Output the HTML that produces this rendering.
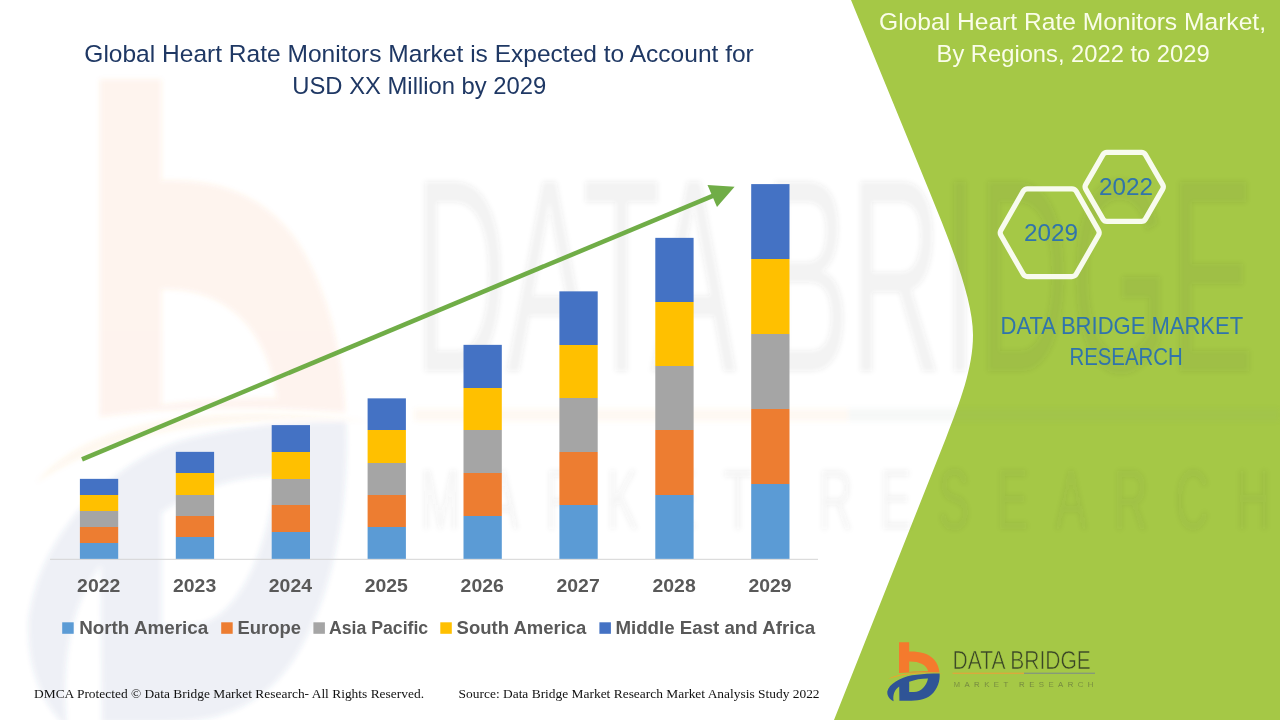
<!DOCTYPE html>
<html lang="en">
<head>
<meta charset="utf-8">
<title>Global Heart Rate Monitors Market</title>
<style>
  html, body { margin: 0; padding: 0; background: #ffffff; }
  body { width: 1280px; height: 720px; overflow: hidden; position: relative;
         font-family: "Liberation Sans", sans-serif; }
  #slide { position: absolute; left: 0; top: 0; width: 1280px; height: 720px; display: block; }
  text { font-family: "Liberation Sans", sans-serif; }
  .serif { font-family: "Liberation Serif", serif; }
  .ttl { font-size: 23.7px; fill: #1f3864; }
  .wttl { font-size: 23.7px; fill: #fafde9; }
  .blue { font-size: 23.7px; fill: #3074ab; }
  .yr { font-size: 17.7px; font-weight: bold; fill: #595959; }
  .lg { font-size: 17.5px; font-weight: bold; fill: #595959; }
</style>
</head>
<body>
<svg id="slide" width="1280" height="720" viewBox="0 0 1280 720">
  <defs>
    <g id="logo-icon">
      <!-- orange b -->
      <path fill="#f47a2d" d="M899,642.3 L909.2,642.3 L909.2,651.5 C919,651.3 928.6,653 934,659.5 C937.5,663.5 939,668 939.5,672.6 C925,672 912,672 899,673 Z M909.2,661.4 L909.2,671.9 C915,671.5 922,671.3 928.2,671.3 C926.5,664.5 919,661.2 909.2,661.4 Z"/>
      <!-- orange swoosh -->
      <path fill="#f4a02d" d="M888.5,679 C897,673.5 915,671.6 943.5,673.4 C918,672.6 900,674.5 888.5,679 Z"/>
      <!-- blue D swoosh -->
      <path fill="#2f5496" fill-rule="evenodd" d="M887.3,691.4 C889,684 900,677.5 912,675.2 C922,673.7 932,673.4 939.6,673.4 C940.2,680 938,689 931,695 C925,700 917,700.8 908,700.8 L899.4,700.8 L899.2,686.5 C895,689.5 892.5,694 893.6,701.2 C889.5,699 887,696 887.3,691.4 Z M909.2,681.7 L909.2,691.9 L914,691.9 C921,691.9 926.5,686 928,678.4 C922,678.3 915,679.5 909.2,681.7 Z"/>
    </g>
    <g id="logo-word">
      <text x="952.5" y="669.3" font-size="25.1" textLength="138.4" lengthAdjust="spacingAndGlyphs">DATA BRIDGE</text>
      <rect x="952.5" y="672.7" width="71.5" height="1.1" fill="#e9a23b" stroke="none"/>
      <rect x="1024" y="672.7" width="71" height="1.1" fill="#7f8f86" stroke="none"/>
    </g>
    <g id="logo-sub">
      <text x="953.5" y="686.6" font-size="7.8" textLength="140" lengthAdjust="spacing">MARKET RESEARCH</text>
    </g>
    <filter id="wmblur" x="-5%" y="-5%" width="110%" height="110%" filterUnits="userSpaceOnUse">
      <feGaussianBlur stdDeviation="2.5"/>
    </filter>
  </defs>

  <!-- white background -->
  <rect x="0" y="0" width="1280" height="720" fill="#ffffff"/>

  <!-- green panel -->
  <path id="panel" fill="#a5c846" d="M851,0 L928,188 C950,242 973,298 973,335 C973,368 960,402 946,438 L834,720 L1280,720 L1280,0 Z"/>

  <!-- watermark (stretched logo) -->
  <g filter="url(#wmblur)">
    <use href="#logo-icon" transform="matrix(6.07 0 0 11 -5357.3 -6986)" opacity="0.085"/>
    <use href="#logo-word" fill="#555555" transform="matrix(6.07 0 0 11 -5367.3 -6990.8)" opacity="0.065"/>
    <use href="#logo-sub" fill="#555555" transform="matrix(6.07 0 0 11 -5367.3 -7024)" opacity="0.06"/>
  </g>

  <!-- left title -->
  <text class="ttl" x="84.3" y="61.5" textLength="669.5" lengthAdjust="spacingAndGlyphs">Global Heart Rate Monitors Market is Expected to Account for</text>
  <text class="ttl" x="292.3" y="93.5" textLength="254" lengthAdjust="spacingAndGlyphs">USD XX Million by 2029</text>

  <!-- right title -->
  <text class="wttl" x="879" y="29.5" textLength="387" lengthAdjust="spacingAndGlyphs">Global Heart Rate Monitors Market,</text>
  <text class="wttl" x="936.6" y="61.7" textLength="273" lengthAdjust="spacingAndGlyphs">By Regions, 2022 to 2029</text>

  <!-- hexagons -->
  <g fill="none" stroke="#f8fbee" stroke-width="5.2" stroke-linejoin="round">
    <path d="M1000.92,235.18 Q999.50,232.70 1000.92,230.22 L1023.16,191.32 Q1024.60,188.80 1027.50,188.80 L1071.90,188.80 Q1074.80,188.80 1076.24,191.32 L1098.48,230.22 Q1099.90,232.70 1098.48,235.18 L1076.24,274.08 Q1074.80,276.60 1071.90,276.60 L1027.50,276.60 Q1024.60,276.60 1023.16,274.08 Z"/>
    <path d="M1085.70,189.15 Q1084.40,186.90 1085.70,184.65 L1103.00,154.65 Q1104.30,152.40 1106.90,152.40 L1141.50,152.40 Q1144.10,152.40 1145.40,154.65 L1162.70,184.65 Q1164.00,186.90 1162.70,189.15 L1145.40,219.15 Q1144.10,221.40 1141.50,221.40 L1106.90,221.40 Q1104.30,221.40 1103.00,219.15 Z"/>
  </g>
  <text class="blue" x="1024" y="241" textLength="54" lengthAdjust="spacingAndGlyphs">2029</text>
  <text class="blue" x="1099" y="195.2" textLength="54" lengthAdjust="spacingAndGlyphs">2022</text>

  <text class="blue" x="1000.6" y="333.6" textLength="242.6" lengthAdjust="spacingAndGlyphs">DATA BRIDGE MARKET</text>
  <text class="blue" x="1069.4" y="365" textLength="113.4" lengthAdjust="spacingAndGlyphs">RESEARCH</text>

  <!-- chart axis -->
  <rect x="50" y="558.8" width="768" height="1" fill="#d4d4d4"/>

  <!-- bars -->
  <g id="bars">
    <!-- 2022 -->
    <rect x="79.9" y="478.85" width="38.3" height="16.15" fill="#4472c4"/>
    <rect x="79.9" y="495.00" width="38.3" height="16.00" fill="#ffc000"/>
    <rect x="79.9" y="511.00" width="38.3" height="16.00" fill="#a5a5a5"/>
    <rect x="79.9" y="527.00" width="38.3" height="16.00" fill="#ed7d31"/>
    <rect x="79.9" y="543.00" width="38.3" height="15.85" fill="#5b9bd5"/>
    <!-- 2023 -->
    <rect x="175.8" y="451.85" width="38.3" height="21.15" fill="#4472c4"/>
    <rect x="175.8" y="473.00" width="38.3" height="22.00" fill="#ffc000"/>
    <rect x="175.8" y="495.00" width="38.3" height="21.00" fill="#a5a5a5"/>
    <rect x="175.8" y="516.00" width="38.3" height="21.00" fill="#ed7d31"/>
    <rect x="175.8" y="537.00" width="38.3" height="21.85" fill="#5b9bd5"/>
    <!-- 2024 -->
    <rect x="271.7" y="425.10" width="38.3" height="26.90" fill="#4472c4"/>
    <rect x="271.7" y="452.00" width="38.3" height="27.00" fill="#ffc000"/>
    <rect x="271.7" y="479.00" width="38.3" height="26.00" fill="#a5a5a5"/>
    <rect x="271.7" y="505.00" width="38.3" height="27.00" fill="#ed7d31"/>
    <rect x="271.7" y="532.00" width="38.3" height="26.85" fill="#5b9bd5"/>
    <!-- 2025 -->
    <rect x="367.6" y="398.35" width="38.3" height="31.65" fill="#4472c4"/>
    <rect x="367.6" y="430.00" width="38.3" height="33.00" fill="#ffc000"/>
    <rect x="367.6" y="463.00" width="38.3" height="32.00" fill="#a5a5a5"/>
    <rect x="367.6" y="495.00" width="38.3" height="32.00" fill="#ed7d31"/>
    <rect x="367.6" y="527.00" width="38.3" height="31.85" fill="#5b9bd5"/>
    <!-- 2026 -->
    <rect x="463.5" y="344.85" width="38.3" height="43.15" fill="#4472c4"/>
    <rect x="463.5" y="388.00" width="38.3" height="42.00" fill="#ffc000"/>
    <rect x="463.5" y="430.00" width="38.3" height="43.00" fill="#a5a5a5"/>
    <rect x="463.5" y="473.00" width="38.3" height="43.00" fill="#ed7d31"/>
    <rect x="463.5" y="516.00" width="38.3" height="42.85" fill="#5b9bd5"/>
    <!-- 2027 -->
    <rect x="559.4" y="291.35" width="38.3" height="53.65" fill="#4472c4"/>
    <rect x="559.4" y="345.00" width="38.3" height="53.00" fill="#ffc000"/>
    <rect x="559.4" y="398.00" width="38.3" height="54.00" fill="#a5a5a5"/>
    <rect x="559.4" y="452.00" width="38.3" height="53.00" fill="#ed7d31"/>
    <rect x="559.4" y="505.00" width="38.3" height="53.85" fill="#5b9bd5"/>
    <!-- 2028 -->
    <rect x="655.3" y="237.85" width="38.3" height="64.15" fill="#4472c4"/>
    <rect x="655.3" y="302.00" width="38.3" height="64.00" fill="#ffc000"/>
    <rect x="655.3" y="366.00" width="38.3" height="64.00" fill="#a5a5a5"/>
    <rect x="655.3" y="430.00" width="38.3" height="65.00" fill="#ed7d31"/>
    <rect x="655.3" y="495.00" width="38.3" height="63.85" fill="#5b9bd5"/>
    <!-- 2029 -->
    <rect x="751.2" y="184.10" width="38.3" height="74.90" fill="#4472c4"/>
    <rect x="751.2" y="259.00" width="38.3" height="75.00" fill="#ffc000"/>
    <rect x="751.2" y="334.00" width="38.3" height="75.00" fill="#a5a5a5"/>
    <rect x="751.2" y="409.00" width="38.3" height="75.00" fill="#ed7d31"/>
    <rect x="751.2" y="484.00" width="38.3" height="74.85" fill="#5b9bd5"/>
  </g>

  <!-- trend arrow -->
  <line x1="82" y1="459.3" x2="714" y2="195.3" stroke="#70ad47" stroke-width="4.5"/>
  <polygon points="734.6,186.7 707.5,185 717,207" fill="#70ad47"/>

  <!-- year labels -->
  <g class="yr">
    <text x="77.1" y="592.4" textLength="43.2" lengthAdjust="spacingAndGlyphs">2022</text>
    <text x="173.0" y="592.4" textLength="43.2" lengthAdjust="spacingAndGlyphs">2023</text>
    <text x="268.8" y="592.4" textLength="43.2" lengthAdjust="spacingAndGlyphs">2024</text>
    <text x="364.7" y="592.4" textLength="43.2" lengthAdjust="spacingAndGlyphs">2025</text>
    <text x="460.6" y="592.4" textLength="43.2" lengthAdjust="spacingAndGlyphs">2026</text>
    <text x="556.5" y="592.4" textLength="43.2" lengthAdjust="spacingAndGlyphs">2027</text>
    <text x="652.5" y="592.4" textLength="43.2" lengthAdjust="spacingAndGlyphs">2028</text>
    <text x="748.4" y="592.4" textLength="43.2" lengthAdjust="spacingAndGlyphs">2029</text>
  </g>

  <!-- legend -->
  <g>
    <rect x="62.2" y="622.3" width="11.5" height="11.5" fill="#5b9bd5"/>
    <text class="lg" x="79.2" y="633.9" textLength="129" lengthAdjust="spacingAndGlyphs">North America</text>
    <rect x="221.2" y="622.3" width="11.5" height="11.5" fill="#ed7d31"/>
    <text class="lg" x="237.5" y="633.9" textLength="63.4" lengthAdjust="spacingAndGlyphs">Europe</text>
    <rect x="313.4" y="622.3" width="11.5" height="11.5" fill="#a5a5a5"/>
    <text class="lg" x="329" y="633.9" textLength="99.2" lengthAdjust="spacingAndGlyphs">Asia Pacific</text>
    <rect x="440.3" y="622.3" width="11.5" height="11.5" fill="#ffc000"/>
    <text class="lg" x="456.6" y="633.9" textLength="129.8" lengthAdjust="spacingAndGlyphs">South America</text>
    <rect x="599.4" y="622.3" width="11.5" height="11.5" fill="#4472c4"/>
    <text class="lg" x="615.4" y="633.9" textLength="199.8" lengthAdjust="spacingAndGlyphs">Middle East and Africa</text>
  </g>

  <!-- footer -->
  <text class="serif" x="34" y="697.5" font-size="13.33" fill="#111111" textLength="390" lengthAdjust="spacingAndGlyphs">DMCA Protected © Data Bridge Market Research- All Rights Reserved.</text>
  <text class="serif" x="458.6" y="698.4" font-size="13.33" fill="#111111" textLength="361" lengthAdjust="spacingAndGlyphs">Source: Data Bridge Market Research Market Analysis Study 2022</text>

  <!-- logo -->
  <use href="#logo-icon"/>
  <use href="#logo-word" fill="#3a4626" stroke="#a5c846" stroke-width="0.55"/>
  <use href="#logo-sub" fill="#65743f" stroke="#a5c846" stroke-width="0.2"/>
</svg>
</body>
</html>
